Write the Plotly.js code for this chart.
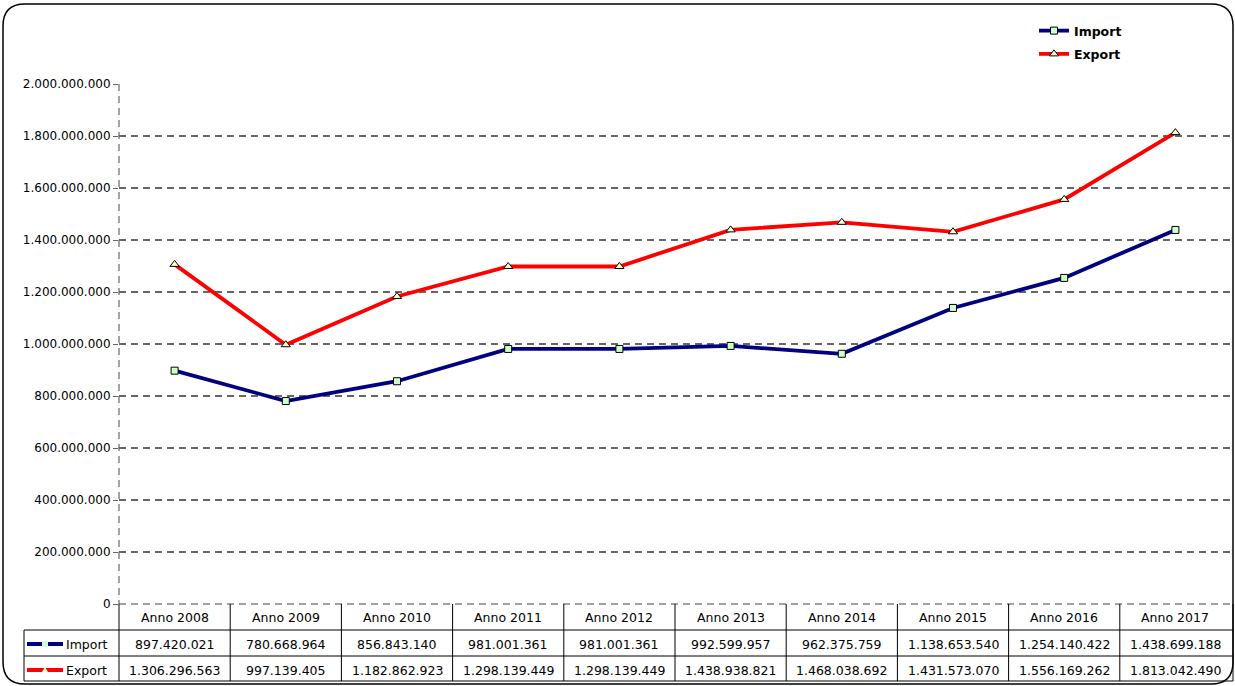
<!DOCTYPE html>
<html><head><meta charset="utf-8">
<script src="https://cdn.plot.ly/plotly-3.0.1.min.js"></script>
<style>html,body{margin:0;padding:0;background:#fff}#c{width:1235px;height:686px}</style>
</head><body><div id="c"></div>
<script>
const categories = ["Anno 2008","Anno 2009","Anno 2010","Anno 2011","Anno 2012","Anno 2013","Anno 2014","Anno 2015","Anno 2016","Anno 2017"];
const importValues = [897420021, 780668964, 856843140, 981001361, 981001361, 992599957, 962375759, 1138653540, 1254140422, 1438699188];
const exportValues = [1306296563, 997139405, 1182862923, 1298139449, 1298139449, 1438938821, 1468038692, 1431573070, 1556169262, 1813042490];
const seriesNames = ["Import", "Export"];
const yTicks = [0, 200000000, 400000000, 600000000, 800000000, 1000000000, 1200000000, 1400000000, 1600000000, 1800000000, 2000000000];

const L = 119, R = 1231, T = 84, B = 604, W = R - L, H = B - T;
const px = v => (v - L) / W;
const py = v => (B - v) / H;
const fmt = n => String(n).replace(/\B(?=(\d{3})+(?!\d))/g, ".");
const FONT = "DejaVu Sans, Verdana, sans-serif";
const impColor = "#000080", expColor = "#ff0000";
const gridCol = "#666666";

const traces = [
  {type:"scatter", mode:"lines+markers", name:seriesNames[0], x:categories, y:importValues,
   line:{color:impColor, width:3.8}, legendgroup:"a",
   marker:{symbol:"square", size:7, color:"#ccffcc", line:{color:"#000", width:1}}},
  {type:"scatter", mode:"lines+markers", name:seriesNames[1], x:categories, y:exportValues,
   line:{color:expColor, width:3.8}, legendgroup:"b",
   marker:{symbol:"triangle-up", size:8, color:"#ffffcc", line:{color:"#000", width:1}}}
];

const shapes = [];
const annotations = [];
const line = (x0,y0,x1,y1,opt) => shapes.push(Object.assign({type:"line", xref:"paper", yref:"paper",
  x0:px(x0), y0:py(y0), x1:px(x1), y1:py(y1), line:{color:"#000", width:1}}, opt||{}));

// dashed y axis line and zero line
line(L, T, L, B, {line:{color:gridCol, width:1.2, dash:"7px,5px"}});
line(L, B, R, B, {line:{color:"#444", width:1.2, dash:"7px,5px"}});

// table grid
line(24, 630, 1233, 630);
line(24, 656, 1233, 656);
line(24, 681, 1233, 681);
line(24, 630, 24, 681);
for (let i = 0; i <= categories.length; i++) {
  const xx = L + i * W / categories.length + (i === categories.length ? 2 : 0);
  line(xx, 604, xx, 681);
}
const tf = {family:FONT, size:12.5, color:"#000"};
// table texts
categories.forEach((c, i) => {
  annotations.push({xref:"x", yref:"paper", x:c, y:py(617), yanchor:"middle", text:c, showarrow:false, font:tf});
  annotations.push({xref:"x", yref:"paper", x:c, y:py(644), yanchor:"middle", text:fmt(importValues[i]), showarrow:false, font:tf});
  annotations.push({xref:"x", yref:"paper", x:c, y:py(670), yanchor:"middle", text:fmt(exportValues[i]), showarrow:false, font:tf});
});
[[seriesNames[0], 644, impColor, "sq"], [seriesNames[1], 670, expColor, "tri"]].forEach(([name, yy, col, m]) => {
  annotations.push({xref:"paper", yref:"paper", x:px(64), y:py(yy), xanchor:"left", yanchor:"middle", text:name, showarrow:false, font:tf});
  line(27, yy, 63, yy, {line:{color:col, width:3.8}});
  if (m === "sq") {
    shapes.push({type:"rect", xref:"paper", yref:"paper", x0:px(42), x1:px(48), y0:py(yy-3), y1:py(yy+3), fillcolor:"#ccffcc", line:{width:0}});
  } else {
    shapes.push({type:"path", xref:"paper", yref:"paper",
      path:`M ${px(42)} ${py(yy+2)} L ${px(48)} ${py(yy+2)} L ${px(45)} ${py(yy-3)} Z`, fillcolor:"#ffffcc", line:{width:0}});
  }
});

// outer rounded frame
const fx0 = 3, fx1 = 1233, fy0 = 4, fy1 = 684, r = 22;
const P = (x, y) => `${px(x)} ${py(y)}`;
shapes.push({type:"path", xref:"paper", yref:"paper", line:{color:"#000", width:1.5},
  path:`M ${P(fx0+r, fy0)} L ${P(fx1-r, fy0)} Q ${P(fx1, fy0)} ${P(fx1, fy0+r)} L ${P(fx1, fy1-r)} Q ${P(fx1, fy1)} ${P(fx1-r, fy1)} L ${P(fx0+r, fy1)} Q ${P(fx0, fy1)} ${P(fx0, fy1-r)} L ${P(fx0, fy0+r)} Q ${P(fx0, fy0)} ${P(fx0+r, fy0)} Z`});

const layout = {
  width:1235, height:686,
  margin:{l:L, r:1235-R, t:T, b:686-B},
  paper_bgcolor:"#fff", plot_bgcolor:"#fff",
  separators:",.",
  font:{family:FONT, size:12, color:"#000"},
  showlegend:true,
  legend:{x:px(1034), y:py(16), xanchor:"left", yanchor:"top", traceorder:"grouped", tracegroupgap:4,
    font:{family:FONT, size:12.5, color:"#000", weight:"bold"}, bgcolor:"rgba(0,0,0,0)", itemwidth:30},
  xaxis:{type:"category", range:[-0.5, categories.length-0.5], showticklabels:false, showgrid:false, zeroline:false, showline:false, ticks:""},
  yaxis:{range:[0, 2000000000], tickvals:yTicks, tickformat:",d", showgrid:true, gridcolor:gridCol, griddash:"7px,5px", gridwidth:1.2,
    zeroline:false, showline:false, ticks:"outside", ticklen:5, tickcolor:gridCol, tickfont:{family:FONT, size:12, color:"#000"}},
  shapes, annotations
};
Plotly.newPlot("c", traces, layout, {displayModeBar:false, staticPlot:true});
</script></body></html>
